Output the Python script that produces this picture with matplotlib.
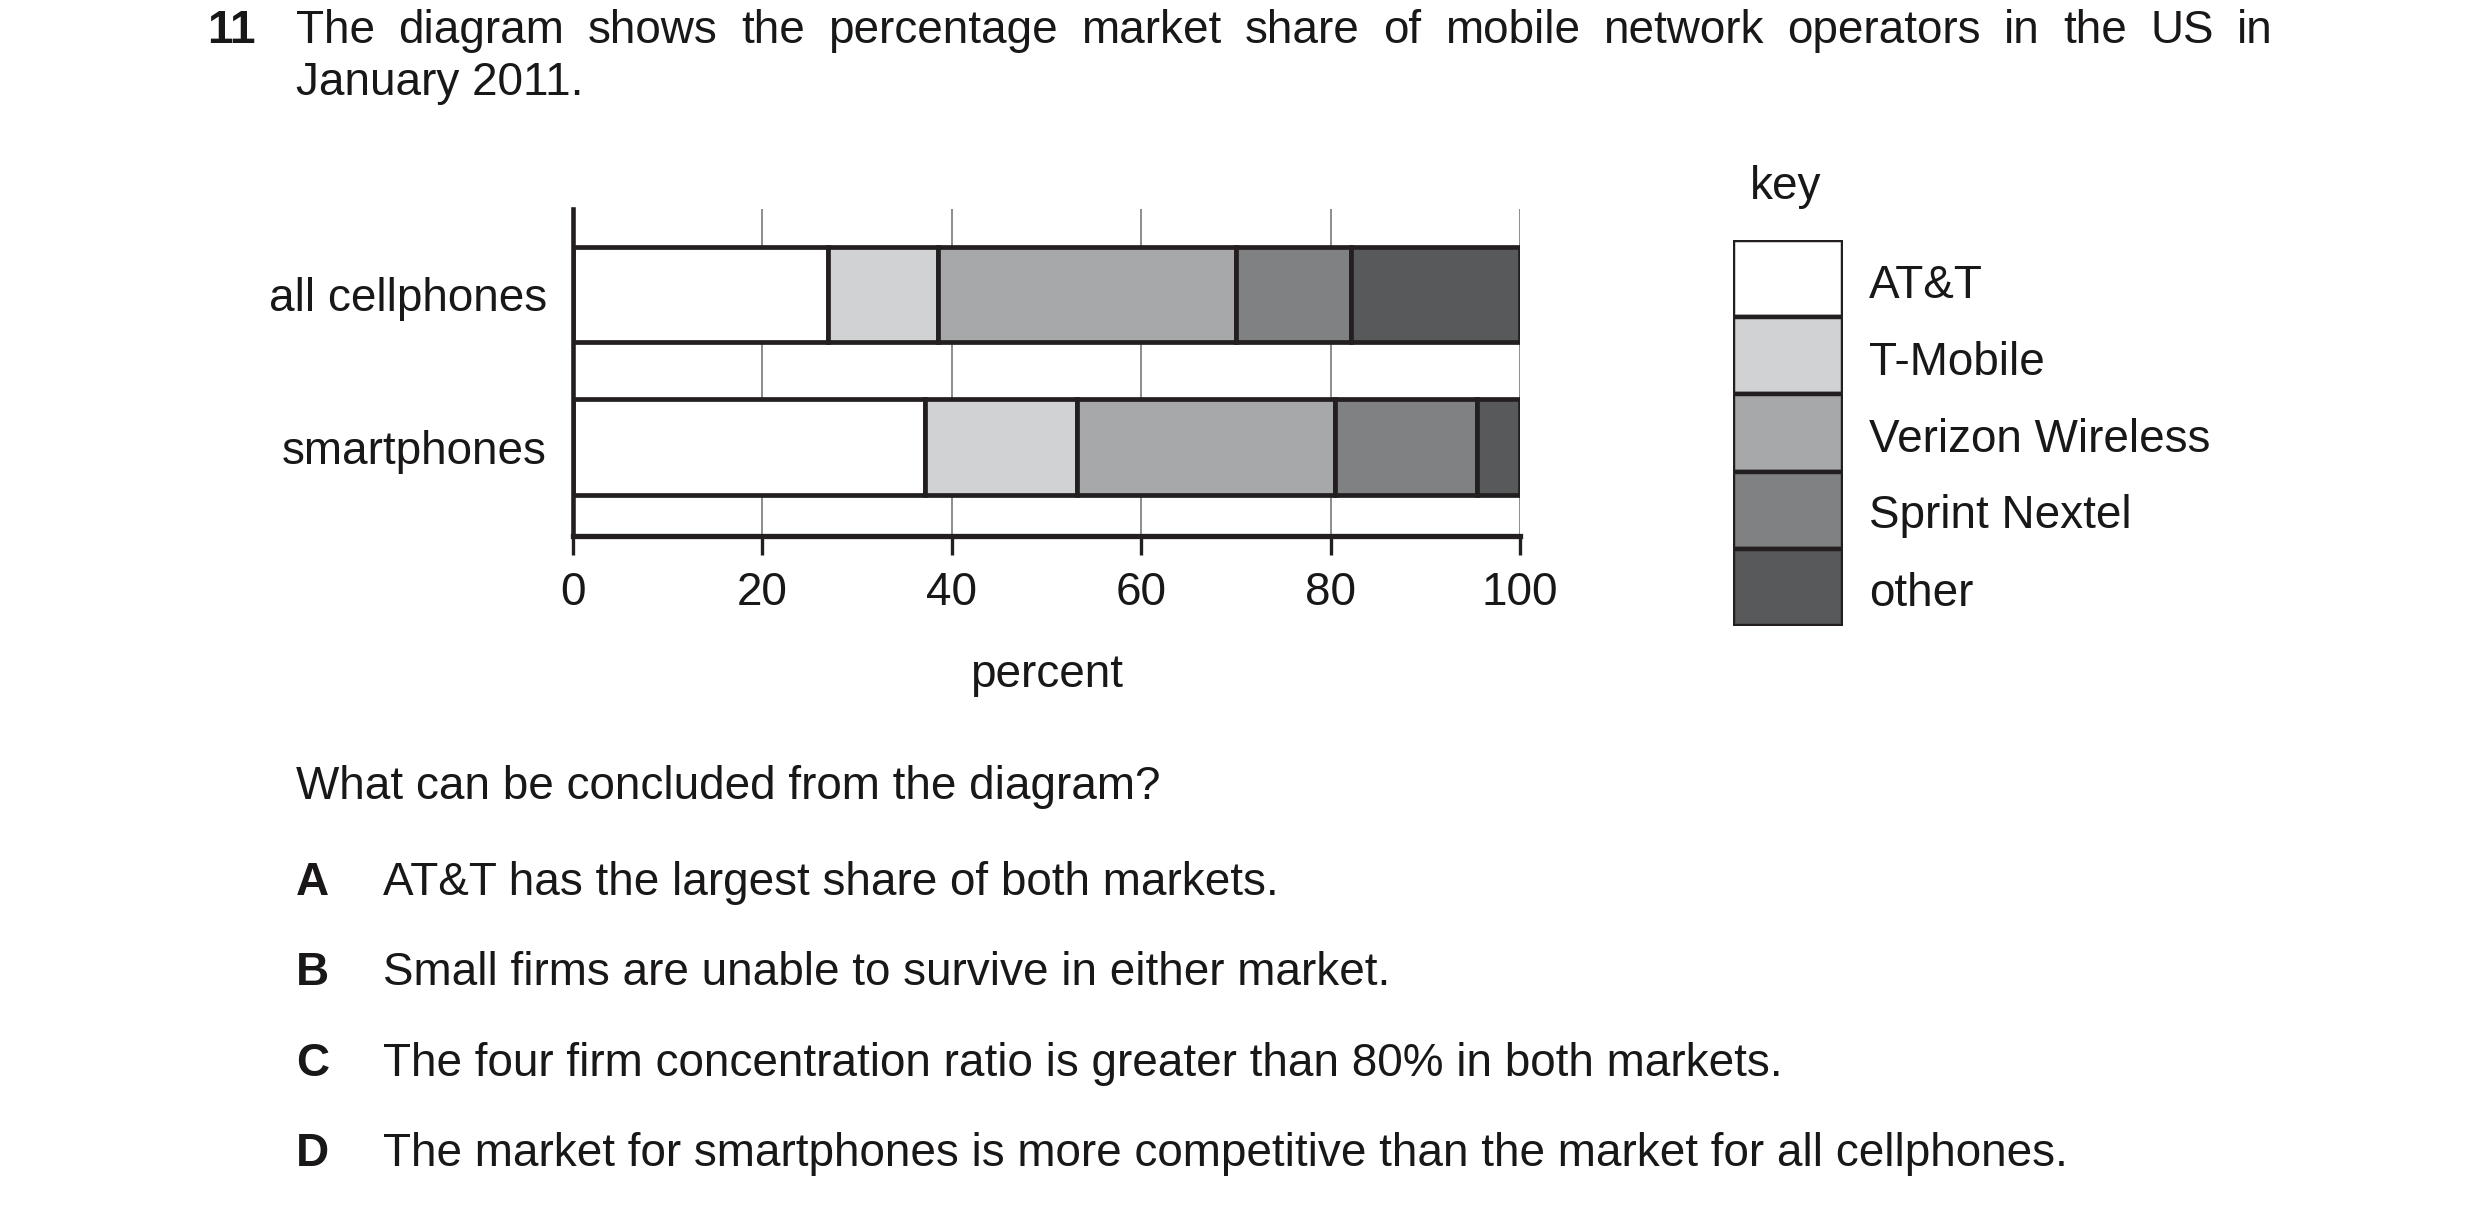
import matplotlib
matplotlib.use("Agg")
import matplotlib.pyplot as plt
import numpy as np

plt.rcParams["font.family"] = ["Liberation Sans", "DejaVu Sans"]

# market share, percent
categories = ["all cellphones", "smartphones"]
operators = ["AT&T", "T-Mobile", "Verizon Wireless", "Sprint Nextel", "other"]
all_cellphones = [27.0, 11.6, 31.4, 12.2, 17.8]
smartphones = [37.2, 16.0, 27.3, 15.0, 4.5]
colors = ["#ffffff", "#d1d2d4", "#a7a8aa", "#808183", "#58595b"]
ticks = [0, 20, 40, 60, 80, 100]

question = ("The diagram shows the percentage market share of mobile network "
            "operators in the US in")
question_end = "January 2011."
prompt = "What can be concluded from the diagram?"
option_keys = ["A", "B", "C", "D"]
option_texts = [
    "AT&T has the largest share of both markets.",
    "Small firms are unable to survive in either market.",
    "The four firm concentration ratio is greater than 80% in both markets.",
    "The market for smartphones is more competitive than the market for all cellphones.",
]

W, H = 2480, 1215
FS = 33
EDGE = "#231f20"
TXT = "#1a1718"
DY = 4  # small vertical nudge for centred text

fig = plt.figure(figsize=(W / 100, H / 100), dpi=100)


def fx(px):
    return px / W


def fy(py):
    return 1 - (py + DY) / H


# --- main chart ---
ax = fig.add_axes([572.5 / W, 1 - 536 / H, (1520 - 572.5) / W, (536 - 209) / H])
shares = np.array([all_cellphones, smartphones])
ypos = [1, 0]
left = np.zeros(len(categories))
for j in range(len(operators)):
    ax.barh(ypos, shares[:, j], left=left, height=0.625, color=colors[j],
            edgecolor=EDGE, linewidth=3.4, zorder=3)
    left += shares[:, j]

ax.set_xlim(0, 100)
ax.set_ylim(-0.584, 1.56)
ax.set_xticks(ticks)
ax.set_xticklabels([str(t) for t in ticks], fontsize=FS, color=TXT)
ax.set_yticks(ypos)
ax.set_yticklabels(categories, fontsize=FS, color=TXT)
ax.tick_params(axis="y", left=False, pad=15)
ax.tick_params(axis="x", direction="out", length=14, width=2.4, color=EDGE, pad=11)
for t in ticks[1:]:
    ax.axvline(t, color="#6d6e70", linewidth=1.1, zorder=1)
for s in ["top", "right"]:
    ax.spines[s].set_visible(False)
ax.spines["left"].set_linewidth(3.3)
ax.spines["bottom"].set_linewidth(3.8)
ax.spines["left"].set_color(EDGE)
ax.spines["bottom"].set_color(EDGE)
ax.spines["left"].set_zorder(4)
ax.spines["bottom"].set_zorder(4)

fig.text(fx(1047), fy(671), "percent", fontsize=FS, color=TXT, ha="center", va="center")

# --- key ---
kx = fig.add_axes([1733 / W, 1 - 626 / H, 110 / W, (626 - 240) / H])
n = len(operators)
kx.bar([0] * n, [1] * n, bottom=np.arange(n)[::-1], width=1, align="edge",
       color=colors, edgecolor=EDGE, linewidth=3.2)
kx.set_xlim(0, 1)
kx.set_ylim(0, n)
kx.axis("off")
fig.text(fx(1786), fy(183), "key", fontsize=FS, color=TXT, ha="center", va="center")
label_y = [281.5, 359, 436.5, 512, 590]
for name, ly in zip(operators, label_y):
    fig.text(fx(1869), fy(ly), name, fontsize=FS, color=TXT, ha="left", va="center")

# --- question text ---
fig.text(fx(207), fy(27), "11", fontsize=FS, fontweight="bold", color=TXT,
         ha="left", va="center")

# justified first line
renderer = fig.canvas.get_renderer()
words = question.split()
x0, x1 = 296, 2273
tmp = [fig.text(0, 0, w, fontsize=FS) for w in words]
widths = [t.get_window_extent(renderer).width for t in tmp]
for t in tmp:
    t.remove()
gap = (x1 - x0 - sum(widths)) / (len(words) - 1)
x = x0
for w, wd in zip(words, widths):
    fig.text(fx(x), fy(27), w, fontsize=FS, color=TXT, ha="left", va="center")
    x += wd + gap
fig.text(fx(296), fy(79), question_end, fontsize=FS, color=TXT, ha="left", va="center")

fig.text(fx(296), fy(783), prompt, fontsize=FS, color=TXT, ha="left", va="center")
opt_y = [879, 969, 1060, 1150]
for k, txt, oy in zip(option_keys, option_texts, opt_y):
    fig.text(fx(296), fy(oy), k, fontsize=FS, fontweight="bold", color=TXT,
             ha="left", va="center")
    fig.text(fx(383), fy(oy), txt, fontsize=FS, color=TXT, ha="left", va="center")

fig.savefig("out.png", dpi=100, facecolor="white")
